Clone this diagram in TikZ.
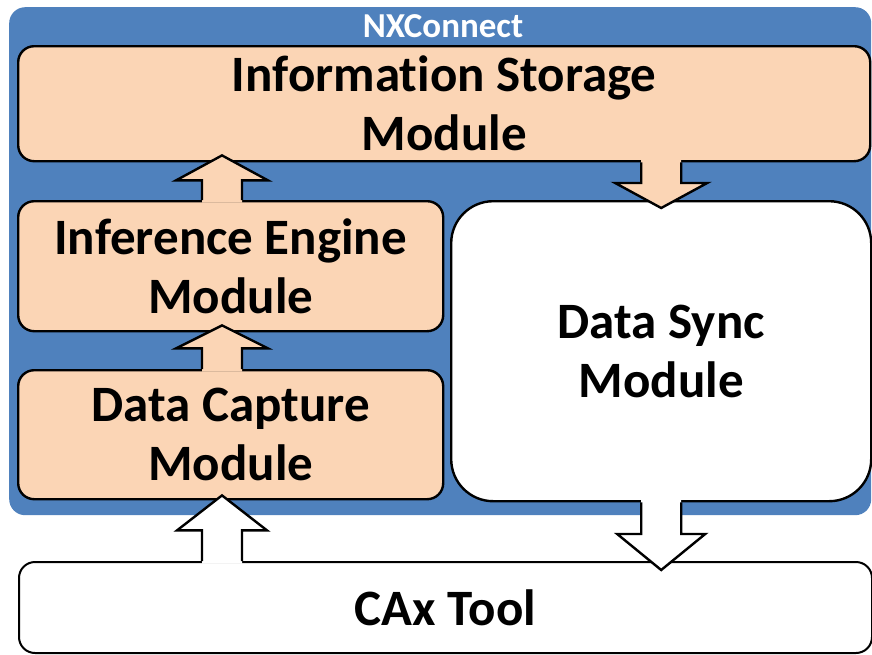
\documentclass[tikz,border=0pt]{standalone}
\usepackage{fontspec}
\setmainfont[Ligatures=NoCommon]{Carlito}
\usetikzlibrary{calc}
\definecolor{frameblue}{RGB}{79,129,189}
\definecolor{peach}{RGB}{251,213,181}
\tikzset{
  module/.style={draw=black, line width=2.4pt, rounded corners=16pt, fill=peach,
    anchor=north west, inner sep=0pt, align=center,
    font=\bfseries\fontsize{51}{59}\selectfont},
  whitemodule/.style={module, fill=white},
  arrowline/.style={draw=black, line width=2.4pt, line join=miter},
}
% Block arrow: #1 base point (on the source box), #2 tip, #3 head length,
% #4 fill colour, #5 head half-width
\newcommand\blockarrow[5]{%
  \coordinate (ba) at ($(#1)!-2.6pt!(#2)$);
  \coordinate (hb) at ($(#2)!#3!(#1)$);
  \fill[#4] ($(ba)!20pt!90:(#2)$) -- ($(hb)!20pt!90:(#2)$) -- ($(hb)!#5!90:(#2)$)
    -- (#2) -- ($(hb)!#5!-90:(#2)$) -- ($(hb)!20pt!-90:(#2)$)
    -- ($(ba)!20pt!-90:(#2)$) -- cycle;
  \draw[arrowline] ($(#1)!20pt!90:(#2)$) -- ($(hb)!20pt!90:(#2)$) -- ($(hb)!#5!90:(#2)$)
    -- (#2) -- ($(hb)!#5!-90:(#2)$) -- ($(hb)!20pt!-90:(#2)$)
    -- ($(#1)!20pt!-90:(#2)$);
}
\begin{document}
\begin{tikzpicture}[x=1pt, y=-1pt]
  \useasboundingbox (0,0) rectangle (872,654);

  % NXConnect container
  \node[fill=frameblue, rounded corners=16pt, anchor=north west, inner sep=0pt,
        minimum width=862pt, minimum height=508pt] (frame) at (9,7) {};
  \node[text=white, font=\bfseries\fontsize{35}{40}\selectfont] (title) at (443,26) {NXConnect};

  % modules
  \node[module, minimum width=852pt, minimum height=115pt] (info) at (17,45)
    {Information Storage\\Module};
  \node[module, minimum width=425pt, minimum height=130pt] (infer) at (17,200)
    {Inference Engine\\Module};
  \node[module, minimum width=425pt, minimum height=129pt] (capt) at (17,369)
    {Data Capture\\Module};
  \node[whitemodule, rounded corners=42pt, minimum width=420pt, minimum height=300pt] (sync) at (450,200)
    {Data Sync\\Module};
  \node[whitemodule, line width=2pt, minimum width=853pt, minimum height=91pt] (cax) at (18,561)
    {CAx Tool};

  % arrow anchor points
  \coordinate (a1b) at ([xshift=205pt]infer.north west);
  \coordinate (a1t) at ([yshift=7pt]a1b |- info.south);
  \coordinate (a2b) at ([xshift=205pt]capt.north west);
  \coordinate (a2t) at ([yshift=7pt]a2b |- infer.south);
  \coordinate (a3b) at ([xshift=204pt]cax.north west);
  \coordinate (a3t) at ([yshift=5pt]a3b |- capt.south);
  \coordinate (a4b) at (info.south -| sync.north);
  \coordinate (a4t) at ([yshift=-8pt]sync.north);
  \coordinate (a5b) at (sync.south);
  \coordinate (a5t) at ([yshift=-9pt]a5b |- cax.north);

  % block arrows
  \blockarrow{a1b}{a1t}{25pt}{peach}{46pt}
  \blockarrow{a2b}{a2t}{23pt}{peach}{46pt}
  \blockarrow{a3b}{a3t}{35pt}{white}{45pt}
  \blockarrow{a4b}{a4t}{25pt}{peach}{46pt}
  \blockarrow{a5b}{a5t}{36pt}{white}{44pt}
\end{tikzpicture}
\end{document}
